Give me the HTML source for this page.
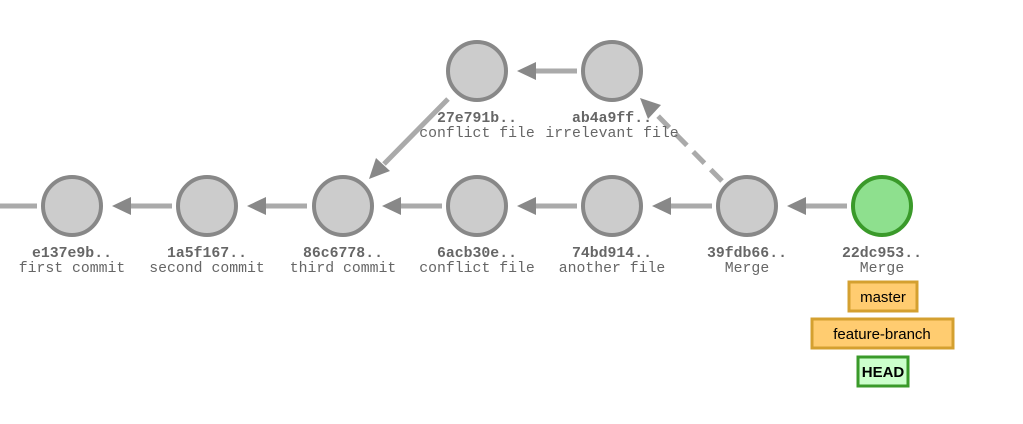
<!DOCTYPE html>
<html><head><meta charset="utf-8"><style>
html,body{margin:0;padding:0;background:#fff;width:1023px;height:424px;overflow:hidden}
svg{display:block}
.h{font-family:"Liberation Mono",monospace;font-weight:bold;font-size:14.8px;fill:#666;text-anchor:middle}
.m{font-family:"Liberation Mono",monospace;font-size:14.8px;fill:#666;text-anchor:middle}
.t{font-family:"Liberation Sans",sans-serif;font-size:15px;fill:#000;text-anchor:middle}
</style></head><body>
<svg width="1023" height="424" viewBox="0 0 1023 424">
<g stroke="#aaa" stroke-width="5" fill="none">
<line x1="0" y1="206" x2="37" y2="206"/>
<line x1="172" y1="206" x2="130" y2="206"/>
<line x1="307" y1="206" x2="265" y2="206"/>
<line x1="442" y1="206" x2="400" y2="206"/>
<line x1="577" y1="206" x2="535" y2="206"/>
<line x1="712" y1="206" x2="670" y2="206"/>
<line x1="847" y1="206" x2="805" y2="206"/>
<line x1="577" y1="71" x2="535" y2="71"/>
<line x1="448" y1="99" x2="384" y2="164"/>
<line x1="722" y1="181" x2="655" y2="113" stroke-dasharray="16,9"/>
</g>
<g fill="#888">
<polygon points="112,206 131,197 131,215"/>
<polygon points="247,206 266,197 266,215"/>
<polygon points="382,206 401,197 401,215"/>
<polygon points="517,206 536,197 536,215"/>
<polygon points="652,206 671,197 671,215"/>
<polygon points="787,206 806,197 806,215"/>
<polygon points="517,71 536,62 536,80"/>
<polygon points="369,179 376,158 390,171"/>
<polygon points="640,98 661,105 648,119"/>
</g>
<g fill="#ccc" stroke="#888" stroke-width="4">
<circle cx="72" cy="206" r="29"/>
<circle cx="207" cy="206" r="29"/>
<circle cx="343" cy="206" r="29"/>
<circle cx="477" cy="206" r="29"/>
<circle cx="612" cy="206" r="29"/>
<circle cx="747" cy="206" r="29"/>
<circle cx="477" cy="71" r="29"/>
<circle cx="612" cy="71" r="29"/>
</g>
<circle cx="882" cy="206" r="29" fill="#8ee08e" stroke="#3a9a2a" stroke-width="4"/>
<text class="h" x="72" y="257">e137e9b..</text><text class="m" x="72" y="272">first commit</text>
<text class="h" x="207" y="257">1a5f167..</text><text class="m" x="207" y="272">second commit</text>
<text class="h" x="343" y="257">86c6778..</text><text class="m" x="343" y="272">third commit</text>
<text class="h" x="477" y="257">6acb30e..</text><text class="m" x="477" y="272">conflict file</text>
<text class="h" x="612" y="257">74bd914..</text><text class="m" x="612" y="272">another file</text>
<text class="h" x="747" y="257">39fdb66..</text><text class="m" x="747" y="272">Merge</text>
<text class="h" x="882" y="257">22dc953..</text><text class="m" x="882" y="272">Merge</text>
<text class="h" x="477" y="122">27e791b..</text><text class="m" x="477" y="137">conflict file</text>
<text class="h" x="612" y="122">ab4a9ff..</text><text class="m" x="612" y="137">irrelevant file</text>
<rect x="849" y="282" width="68" height="29" fill="#ffcc70" stroke="#d4a030" stroke-width="3"/>
<text class="t" x="883" y="302">master</text>
<rect x="812" y="319" width="141" height="29" fill="#ffcc70" stroke="#d4a030" stroke-width="3"/>
<text class="t" x="882" y="339">feature-branch</text>
<rect x="858" y="357" width="50" height="29" fill="#ccffcc" stroke="#3a9a2a" stroke-width="3"/>
<text class="t" x="883" y="377" font-weight="bold">HEAD</text>
</svg>
</body></html>
